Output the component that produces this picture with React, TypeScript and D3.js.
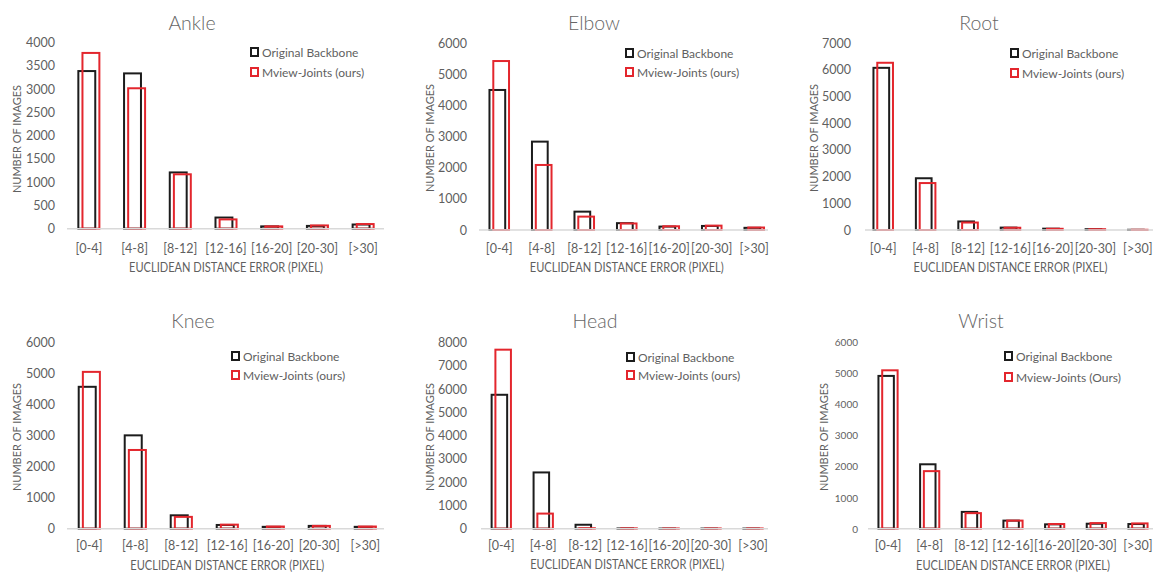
import React from "react";
import * as d3 from "d3";

// ---------- data ----------
const categories = ["[0-4]", "[4-8]", "[8-12]", "[12-16]", "[16-20]", "[20-30]", "[>30]"];
const seriesNames = ["Original Backbone", "Mview-Joints (ours)"];
const seriesNamesWrist = ["Original Backbone", "Mview-Joints (Ours)"];
const panelTitles = ["Ankle", "Elbow", "Root", "Knee", "Head", "Wrist"];

const ankleBackbone = [3390, 3340, 1210, 240, 50, 60, 90];
const ankleMview = [3780, 3020, 1170, 200, 50, 70, 100];
const elbowBackbone = [4500, 2840, 590, 220, 110, 130, 70];
const elbowMview = [5430, 2090, 430, 210, 120, 140, 80];
const rootBackbone = [6080, 1940, 320, 90, 50, 30, 8];
const rootMview = [6270, 1760, 280, 85, 45, 30, 8];
const kneeBackbone = [4560, 3000, 430, 120, 60, 90, 60];
const kneeMview = [5040, 2530, 380, 130, 70, 90, 70];
const headBackbone = [5760, 2420, 170, 10, 5, 5, 5];
const headMview = [7700, 650, 20, 15, 10, 10, 10];
const wristBackbone = [4910, 2070, 540, 260, 140, 160, 150];
const wristMview = [5090, 1850, 500, 260, 150, 180, 170];

const yMaxes = [4000, 6000, 7000, 6000, 8000, 6000];
const ySteps = [500, 1000, 1000, 1000, 1000, 1000];

const xAxisTitle = "EUCLIDEAN DISTANCE ERROR (PIXEL)";
const yAxisTitle = "NUMBER OF IMAGES";

// ---------- layout ----------
type Layout = {
  bx0: number; bx1: number; lineX0: number; lineX1: number;
  yTop: number; yBase: number; tickX: number; tickSize: number;
  yTitleX: number; yTitleY: number; titleX: number; titleY: number;
  legX: number; legY1: number; legY2: number; xLabY: number; xTitleY: number;
};

const layouts: Layout[] = [
  { bx0: 66, bx1: 386, lineX0: 67, lineX1: 384, yTop: 42.7, yBase: 228.7, tickX: 55, tickSize: 12.5,
    yTitleX: 16, yTitleY: 139, titleX: 192, titleY: 22, legX: 250, legY1: 52, legY2: 72, xLabY: 248, xTitleY: 267 },
  { bx0: 478, bx1: 775.5, lineX0: 479, lineX1: 768, yTop: 43.3, yBase: 230, tickX: 467, tickSize: 12.5,
    yTitleX: 429, yTitleY: 138, titleX: 594, titleY: 22, legX: 625, legY1: 53, legY2: 72, xLabY: 248, xTitleY: 267 },
  { bx0: 862, bx1: 1159, lineX0: 865, lineX1: 1153, yTop: 43.3, yBase: 230, tickX: 851, tickSize: 12.5,
    yTitleX: 813, yTitleY: 138, titleX: 979, titleY: 22, legX: 1010, legY1: 53, legY2: 73, xLabY: 248, xTitleY: 267 },
  { bx0: 66.3, bx1: 388.3, lineX0: 67, lineX1: 384, yTop: 342, yBase: 528.7, tickX: 55, tickSize: 12.5,
    yTitleX: 16, yTitleY: 437, titleX: 193, titleY: 320, legX: 231, legY1: 356, legY2: 375, xLabY: 545, xTitleY: 565 },
  { bx0: 480.3, bx1: 774, lineX0: 481, lineX1: 768, yTop: 342.7, yBase: 528.7, tickX: 467, tickSize: 12.5,
    yTitleX: 429, yTitleY: 437, titleX: 595, titleY: 320, legX: 626, legY1: 357, legY2: 375, xLabY: 545, xTitleY: 564 },
  { bx0: 867.2, bx1: 1158.8, lineX0: 868, lineX1: 1153, yTop: 342, yBase: 528.7, tickX: 858, tickSize: 10,
    yTitleX: 823, yTitleY: 437, titleX: 981, titleY: 320, legX: 1004, legY1: 356, legY2: 377, xLabY: 545, xTitleY: 565 },
];

const panelSeries = [
  [ankleBackbone, ankleMview],
  [elbowBackbone, elbowMview],
  [rootBackbone, rootMview],
  [kneeBackbone, kneeMview],
  [headBackbone, headMview],
  [wristBackbone, wristMview],
];

const FONT = "Lato, 'Open Sans', sans-serif";
const TEXT = "#5f5f5f";
const COLORS = ["#1c1c1c", "#e3262d"];
const AXIS = "#d9d9d9";

function Panel({ idx }: { idx: number }) {
  const L = layouts[idx];
  const series = panelSeries[idx];
  const names = idx === 5 ? seriesNamesWrist : seriesNames;
  const x = d3.scaleBand<string>().domain(categories).range([L.bx0, L.bx1]).padding(0);
  const y = d3.scaleLinear().domain([0, yMaxes[idx]]).range([L.yBase, L.yTop]);
  const ticks = d3.range(0, yMaxes[idx] + 1, ySteps[idx]);
  const step = x.step();
  const w = step * 0.37;
  const off = step * 0.09;

  return (
    <g>
      <text x={L.titleX} y={L.titleY} textAnchor="middle" dominantBaseline="central"
        fontSize={19.5} fontWeight={300} fill="#666" fontFamily={FONT}>{panelTitles[idx]}</text>
      {ticks.map((t) => (
        <text key={t} x={L.tickX} y={y(t)} textAnchor="end" dominantBaseline="central"
          fontSize={L.tickSize} fill={TEXT} fontFamily={FONT}>{t}</text>
      ))}
      <text transform={`translate(${L.yTitleX},${L.yTitleY}) rotate(-90)`} textAnchor="middle"
        dominantBaseline="central" fontSize={11} fill={TEXT} fontFamily={FONT}
        textLength={108} lengthAdjust="spacingAndGlyphs">{yAxisTitle}</text>
      {series.map((vals, si) =>
        vals.map((v, ci) => {
          const c = (x(categories[ci]) as number) + step / 2;
          const bx = c - w / 2 + (si === 0 ? -off / 2 : off / 2);
          const top = y(v);
          return (
            <rect key={`${si}-${ci}`} x={bx} y={top} width={w} height={Math.max(0, L.yBase - top)}
              fill="none" stroke={COLORS[si]} strokeWidth={2} />
          );
        })
      )}
      <line x1={L.lineX0} x2={L.lineX1} y1={L.yBase} y2={L.yBase} stroke={AXIS} strokeWidth={1.5} />
      {categories.map((c) => (
        <text key={c} x={(x(c) as number) + step / 2} y={L.xLabY} textAnchor="middle"
          dominantBaseline="central" fontSize={12.5} fill={TEXT} fontFamily={FONT}>{c}</text>
      ))}
      <text x={(L.bx0 + L.bx1) / 2} y={L.xTitleY} textAnchor="middle" dominantBaseline="central"
        fontSize={12.5} fill={TEXT} fontFamily={FONT}
        textLength={194} lengthAdjust="spacingAndGlyphs">{xAxisTitle}</text>
      {names.map((n, si) => {
        const ly = si === 0 ? L.legY1 : L.legY2;
        return (
          <g key={n}>
            <rect x={L.legX + 1} y={ly - 4} width={7} height={8} fill="none" stroke={COLORS[si]} strokeWidth={2} />
            <text x={L.legX + 12} y={ly} dominantBaseline="central" fontSize={12} fill={TEXT}
              fontFamily={FONT}>{n}</text>
          </g>
        );
      })}
    </g>
  );
}

export default function App() {
  return (
    <svg width={1153} height={574} style={{ position: "absolute", left: 0, top: 0, background: "#fff" }}>
      <rect x={0} y={0} width={1153} height={574} fill="#fff" />
      {panelTitles.map((_, i) => (
        <Panel key={i} idx={i} />
      ))}
    </svg>
  );
}
